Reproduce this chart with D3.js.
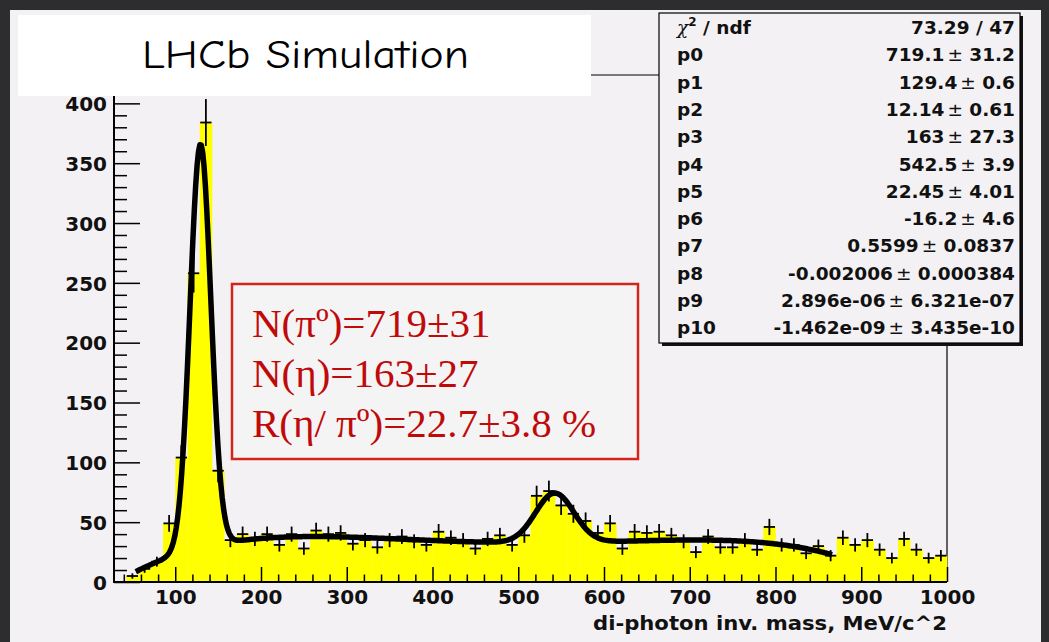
<!DOCTYPE html>
<html>
<head>
<meta charset="utf-8">
<script src="https://cdn.jsdelivr.net/npm/d3@7"></script>
<style>
  html, body { margin: 0; padding: 0; background: #2d2d2f; }
  svg { display: block; }
</style>
</head>
<body>
<svg id="chart" width="1049" height="642"></svg>
<script>
// ---- histogram: di-photon invariant mass, bins of 1000/70 MeV/c^2 ----
const binStart = 200 / 7;          // first displayed bin edge
const binWidth = 1000 / 70;        // bin width
const counts = [0, 5, 11, 17, 49, 104, 258, 384, 93, 35,
                40, 36, 40, 31, 40, 28, 43, 40, 41, 32,
                35, 29, 35, 38, 34, 31, 42, 37, 35, 28,
                36, 39, 31, 39, 72, 76, 64, 57, 51, 41,
                49, 28, 42, 41, 42, 39, 34, 25, 38, 29,
                29, 35, 27, 46, 31, 31, 24, 30, 22, 37,
                31, 35, 27, 20, 36, 27, 20, 22];

// ---- fit: two gaussians (pi0, eta) on a 4th order polynomial ----
const fitParams = [719.1, 129.4, 12.14, 163, 542.5, 22.45,
                   -16.2, 0.5599, -0.002006, 2.896e-06, -1.462e-09];
const fitRange = [54, 866];
const fitSamples = 500;

// ---- stats box ----
const chi2Label = "73.29 / 47";
const statNames  = ["p0", "p1", "p2", "p3", "p4", "p5", "p6", "p7", "p8", "p9", "p10"];
const statValues = ["719.1", "129.4", "12.14", "163", "542.5", "22.45", "-16.2",
                    "0.5599", "-0.002006", "2.896e-06", "-1.462e-09"];
const statErrors = ["31.2", "0.6", "0.61", "27.3", "3.9", "4.01", "4.6",
                    "0.0837", "0.000384", "6.321e-07", "3.435e-10"];

// ---- annotation ----
const resultLines = ["N(\u03c0\u00ba)=719\u00b131", "N(\u03b7)=163\u00b127", "R(\u03b7/ \u03c0\u00ba)=22.7\u00b13.8 %"];
const titleText = "LHCb Simulation";
const xTitle = "di-photon inv. mass, MeV/c^2";

// ---- axes ----
const xDomain = [binStart, 1000];
const yDomain = [0, 423.7];
const xMajor = [100, 200, 300, 400, 500, 600, 700, 800, 900, 1000];
const yMajor = [0, 50, 100, 150, 200, 250, 300, 350, 400];

const svg = d3.select("#chart");
const W = 1049, H = 642;
const frame = { left: 114, right: 947, top: 75, bottom: 582 };
const padColor = "#f4f1f4";
const axisFont = "'DejaVu Sans', 'Liberation Sans', sans-serif";

const x = d3.scaleLinear().domain(xDomain).range([frame.left, frame.right]);
const y = d3.scaleLinear().domain(yDomain).range([frame.bottom, frame.top]);

// slide background and pad
svg.append("rect").attr("width", W).attr("height", H).attr("fill", "#2d2d2f");
svg.append("rect").attr("x", 10).attr("y", 10).attr("width", 1031).attr("height", 632)
   .attr("fill", padColor);

// frame outline (top and right)
svg.append("path")
   .attr("d", `M${frame.left},${frame.top}H${frame.right}V${frame.bottom}`)
   .attr("fill", "none").attr("stroke", "#000").attr("stroke-width", 1.2);

// histogram bars
const bins = counts.map((c, i) => ({
  x0: binStart + i * binWidth,
  x1: binStart + (i + 1) * binWidth,
  c
}));

svg.append("g").selectAll("rect").data(bins).join("rect")
   .attr("x", d => x(d.x0))
   .attr("width", d => x(d.x1) - x(d.x0) + 0.3)
   .attr("y", d => y(d.c))
   .attr("height", d => y(0) - y(d.c))
   .attr("fill", "#ffff00");

// error crosses
const errG = svg.append("g").attr("stroke", "#000").attr("stroke-width", 1.8);
bins.filter(d => d.c > 0).forEach(d => {
  const cx = x((d.x0 + d.x1) / 2);
  const e = Math.sqrt(d.c);
  errG.append("line").attr("x1", x(d.x0) + 0.5).attr("x2", x(d.x1) - 0.5)
      .attr("y1", y(d.c)).attr("y2", y(d.c));
  errG.append("line").attr("x1", cx).attr("x2", cx)
      .attr("y1", y(d.c - e)).attr("y2", y(d.c + e));
});

// fit function, drawn from the parameters in the stats box
function fitFn(m) {
  const p = fitParams;
  const s2pi = Math.sqrt(2 * Math.PI);
  const g1 = p[0] * binWidth / (s2pi * p[2]) * Math.exp(-0.5 * ((m - p[1]) / p[2]) ** 2);
  const g2 = p[3] * binWidth / (s2pi * p[5]) * Math.exp(-0.5 * ((m - p[4]) / p[5]) ** 2);
  const bg = p[6] + p[7] * m + p[8] * m * m + p[9] * m ** 3 + p[10] * m ** 4;
  return g1 + g2 + bg;
}
const fitPts = d3.range(fitSamples + 1).map(k => {
  const m = fitRange[0] + (fitRange[1] - fitRange[0]) * k / fitSamples;
  return [m, fitFn(m)];
});
svg.append("path")
   .datum(fitPts)
   .attr("d", d3.line().x(d => x(d[0])).y(d => y(d[1])))
   .attr("fill", "none").attr("stroke", "#000").attr("stroke-width", 5.5)
   .attr("stroke-linejoin", "round");

// y axis: ticks point into the frame
const yMinor = d3.range(0, 421, 10).filter(v => v % 50 !== 0);
svg.append("g").attr("transform", `translate(${frame.left},0)`)
   .call(d3.axisLeft(y).tickValues(yMinor).tickFormat("").tickSizeInner(-13).tickSizeOuter(0))
   .call(g => g.select(".domain").remove())
   .call(g => g.selectAll("line").attr("stroke-width", 1.5));
svg.append("g").attr("transform", `translate(${frame.left},0)`)
   .call(d3.axisLeft(y).tickValues(yMajor).tickFormat(d3.format("d")).tickSizeInner(-26).tickSizeOuter(0).tickPadding(7))
   .call(g => g.select(".domain").remove())
   .call(g => g.selectAll("line").attr("stroke-width", 1.5))
   .call(g => g.selectAll("text").attr("font-family", axisFont).attr("font-weight", "bold")
                .attr("font-size", 20).attr("fill", "#111").attr("dy", "0.36em"));

// x axis
const xMinor = d3.range(40, 1000, 20).filter(v => v % 100 !== 0);
svg.append("g").attr("transform", `translate(0,${frame.bottom})`)
   .call(d3.axisBottom(x).tickValues(xMinor).tickFormat("").tickSizeInner(-7.5).tickSizeOuter(0))
   .call(g => g.select(".domain").remove())
   .call(g => g.selectAll("line").attr("stroke-width", 1.5));
svg.append("g").attr("transform", `translate(0,${frame.bottom})`)
   .call(d3.axisBottom(x).tickValues(xMajor).tickFormat(d3.format("d")).tickSizeInner(-15).tickSizeOuter(0).tickPadding(8))
   .call(g => g.select(".domain").remove())
   .call(g => g.selectAll("line").attr("stroke-width", 1.5))
   .call(g => g.selectAll("text").attr("font-family", axisFont).attr("font-weight", "bold")
                .attr("font-size", 20).attr("fill", "#111"));

// axis lines
svg.append("path")
   .attr("d", `M${frame.left},${frame.top}V${frame.bottom}H${frame.right}`)
   .attr("fill", "none").attr("stroke", "#000").attr("stroke-width", 2);

// x axis title
svg.append("text").attr("x", frame.right).attr("y", 630)
   .attr("text-anchor", "end").attr("font-family", axisFont).attr("font-weight", "bold")
   .attr("font-size", 19).attr("fill", "#111")
   .attr("textLength", 354).attr("lengthAdjust", "spacingAndGlyphs")
   .text(xTitle);

// stats box with shadow
const sb = { x: 659, y: 13, w: 361, h: 330 };
svg.append("rect").attr("x", sb.x + 3).attr("y", sb.y + 3).attr("width", sb.w).attr("height", sb.h)
   .attr("fill", "#111");
svg.append("rect").attr("x", sb.x).attr("y", sb.y).attr("width", sb.w).attr("height", sb.h)
   .attr("fill", padColor).attr("stroke", "#000").attr("stroke-width", 1.2);

const rowY = i => 34 + 27.3 * i;
const statG = svg.append("g").attr("font-family", axisFont).attr("font-weight", "bold")
   .attr("font-size", 18.5).attr("fill", "#111");

const chiT = statG.append("text").attr("x", 677).attr("y", rowY(0));
chiT.append("tspan").attr("font-weight", "normal").attr("font-family", "'DejaVu Serif', serif")
    .attr("font-style", "italic").text("\u03c7");
chiT.append("tspan").attr("font-size", 12).attr("dy", -8).text("2");
chiT.append("tspan").attr("dy", 8).text(" / ndf");
statG.append("text").attr("x", 1015).attr("y", rowY(0)).attr("text-anchor", "end").text(chi2Label);

statNames.forEach((n, i) => {
  statG.append("text").attr("x", 677).attr("y", rowY(i + 1)).text(n);
  const t = statG.append("text").attr("x", 1015).attr("y", rowY(i + 1)).attr("text-anchor", "end");
  t.append("tspan").text(statValues[i]);
  t.append("tspan").attr("font-weight", "normal").attr("dx", 3).text("\u00b1");
  t.append("tspan").text(" " + statErrors[i]);
});

// title box
svg.append("rect").attr("x", 18).attr("y", 15).attr("width", 573).attr("height", 81)
   .attr("fill", "#ffffff");
svg.append("text").attr("x", 142).attr("y", 68)
   .attr("font-family", "'Comic Sans MS', 'Comic Neue', Lato, 'Open Sans', sans-serif")
   .attr("font-size", 40).attr("fill", "#000")
   .attr("textLength", 327).attr("lengthAdjust", "spacingAndGlyphs")
   .text(titleText);

// result box
svg.append("rect").attr("x", 232).attr("y", 284).attr("width", 406).attr("height", 175)
   .attr("fill", "#f5f4f5").attr("stroke", "#d0261b").attr("stroke-width", 2.5);
svg.append("g").selectAll("text").data(resultLines).join("text")
   .attr("x", 252).attr("y", (d, i) => 337 + 50 * i)
   .attr("font-family", "'Liberation Serif', 'Times New Roman', serif")
   .attr("font-size", 41).attr("fill", "#c00a0a")
   .text(d => d);
</script>
</body>
</html>
